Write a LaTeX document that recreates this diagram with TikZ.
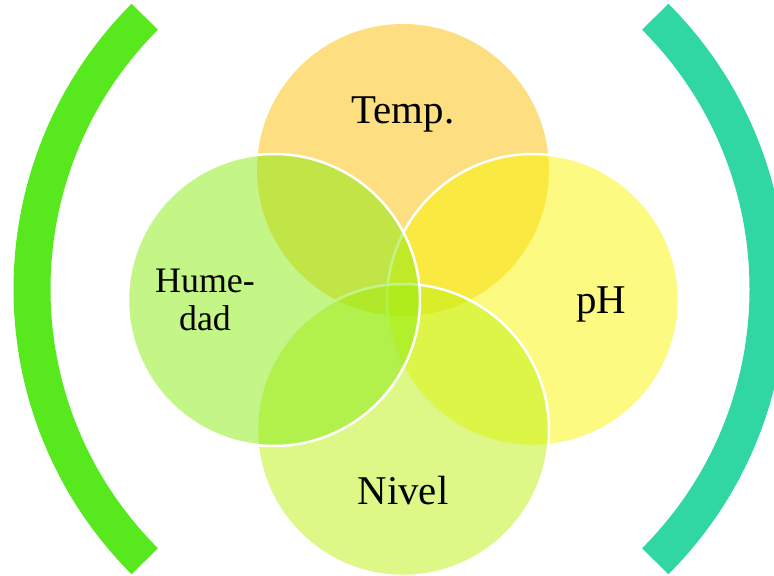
\documentclass[tikz,border=0pt]{standalone}
\usepackage{fontspec}
\setmainfont{Liberation Serif}
\usetikzlibrary{positioning}
\definecolor{tempcol}{RGB}{251,190,2}
\definecolor{phcol}{RGB}{249,245,2}
\definecolor{nivelcol}{RGB}{189,241,16}
\definecolor{humcol}{RGB}{135,235,16}
\definecolor{leftbr}{RGB}{87,233,29}
\definecolor{rightbr}{RGB}{48,215,163}

\begin{document}
\begin{tikzpicture}[x=1bp,y=-1bp]
\tikzset{bubble/.style={circle,minimum size=292bp,inner sep=0pt,fill opacity=0.5,draw=white,line width=2.5bp}}
\tikzset{bracket/.style={line width=37bp}}
\tikzset{lbl/.style={font={\fontsize{41}{45}\selectfont},anchor=base}}
\useasboundingbox (0,0) rectangle (774,576);
\clip (0,0) rectangle (774,576);

%Brackets
\draw[bracket,color=leftbr] (417,289) ++(135:385) arc[start angle=135,end angle=225,radius=385];
\draw[bracket,color=rightbr] (383,289) ++(-45:385) arc[start angle=-45,end angle=45,radius=385];

%Circles
\node[bubble,fill=tempcol,draw=none] (temp) at (403,170) {};
\node[bubble,fill=phcol] (ph) at (533,300) {};
\node[bubble,fill=nivelcol] (nivel) at (403,430) {};
\node[bubble,fill=humcol] (hum) at (274,300) {};

%Labels
\node[lbl] (templbl) at (403,124) {Temp.};
\node[lbl] (phlbl) at (601,313) {pH};
\node[lbl] (nivellbl) at (403,504) {Nivel};
\node[font={\fontsize{36}{38}\selectfont},align=center] (humlbl) at (205,300) {Hume-\\dad};

\end{tikzpicture}
\end{document}
